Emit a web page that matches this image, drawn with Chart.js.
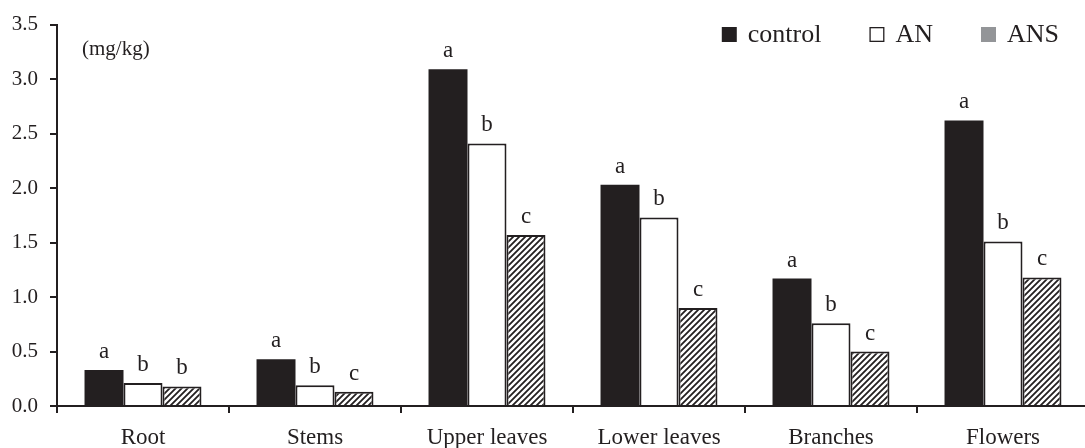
<!DOCTYPE html>
<html>
<head>
<meta charset="utf-8">
<script src="https://cdn.jsdelivr.net/npm/chart.js@4.4.1/dist/chart.umd.min.js"></script>
<style>
  html, body { margin: 0; padding: 0; background: #fff; overflow: hidden; width: 1085px; height: 448px; }
  #wrap { position: absolute; left: 0; top: 0; width: 1100px; height: 448px; }
</style>
</head>
<body>
<div id="wrap"><canvas id="c" width="1100" height="448"></canvas></div>
<script>
// Plant organs and concentrations (mg/kg) per treatment
const categories = ['Root', 'Stems', 'Upper leaves', 'Lower leaves', 'Branches', 'Flowers'];
const controlValues = [0.33, 0.43, 3.09, 2.03, 1.17, 2.62];
const anValues      = [0.21, 0.19, 2.41, 1.73, 0.76, 1.51];
const ansValues     = [0.18, 0.13, 1.57, 0.90, 0.50, 1.18];

// Significance letters above each bar
const controlLetters = ['a', 'a', 'a', 'a', 'a', 'a'];
const anLetters      = ['b', 'b', 'b', 'b', 'b', 'b'];
const ansLetters     = ['b', 'c', 'c', 'c', 'c', 'c'];

const seriesNames = ['control', 'AN', 'ANS'];
const unitLabel = '(mg/kg)';
const yMin = 0, yMax = 3.5, yStep = 0.5;

const INK = '#231f20';
const SERIF = '"Liberation Serif", "Times New Roman", serif';

// Diagonal hatching for the ANS bars
function makeHatch() {
  const s = 6;
  const p = document.createElement('canvas');
  p.width = s; p.height = s;
  const g = p.getContext('2d');
  g.fillStyle = '#fff';
  g.fillRect(0, 0, s, s);
  g.strokeStyle = INK;
  g.lineWidth = 1.8;
  g.beginPath();
  g.moveTo(-1, s + 1); g.lineTo(s + 1, -1);
  g.moveTo(-1, 1); g.lineTo(1, -1);
  g.moveTo(s - 1, s + 1); g.lineTo(s + 1, s - 1);
  g.stroke();
  return document.getElementById('c').getContext('2d').createPattern(p, 'repeat');
}
const hatch = makeHatch();

// Letters drawn above every bar, positioned from the bar elements
const letterPlugin = {
  id: 'letters',
  afterDatasetsDraw(chart) {
    const ctx = chart.ctx;
    ctx.save();
    ctx.font = '23px ' + SERIF;
    ctx.fillStyle = INK;
    ctx.textAlign = 'center';
    ctx.textBaseline = 'alphabetic';
    chart.data.datasets.forEach((ds, i) => {
      chart.getDatasetMeta(i).data.forEach((bar, j) => {
        ctx.fillText(ds.letters[j], bar.x, bar.y - 12);
      });
    });
    ctx.restore();
  }
};

// Unit caption and the legend row at the top right
const annotPlugin = {
  id: 'annot',
  afterDraw(chart) {
    const ctx = chart.ctx;
    const area = chart.chartArea;
    ctx.save();
    ctx.fillStyle = INK;
    ctx.font = '21px ' + SERIF;
    ctx.textAlign = 'left';
    ctx.textBaseline = 'alphabetic';
    ctx.fillText(unitLabel, area.left + 25, 55);

    ctx.font = '26px ' + SERIF;
    const box = 15, gapText = 11, gapItem = 48, baseline = 42;
    const swatches = [
      { fill: INK, stroke: null },
      { fill: '#fff', stroke: INK },
      { fill: '#939598', stroke: null }
    ];
    let x = area.right - 30;
    for (let i = seriesNames.length - 1; i >= 0; i--) {
      const w = ctx.measureText(seriesNames[i]).width;
      const tx = x - w;
      const bx = tx - gapText - box;
      ctx.fillStyle = INK;
      ctx.fillText(seriesNames[i], tx, baseline);
      const sw = swatches[i];
      ctx.fillStyle = sw.fill;
      ctx.fillRect(bx, baseline - box, box, box);
      if (sw.stroke) {
        ctx.strokeStyle = sw.stroke;
        ctx.lineWidth = 1.3;
        ctx.strokeRect(bx + 0.65, baseline - box + 0.65, box - 1.3, box - 1.3);
      }
      x = bx - gapItem;
    }
    ctx.restore();
  }
};

new Chart(document.getElementById('c'), {
  type: 'bar',
  data: {
    labels: categories,
    datasets: [
      { label: seriesNames[0], data: controlValues, letters: controlLetters,
        backgroundColor: INK, borderColor: INK, borderWidth: 0 },
      { label: seriesNames[1], data: anValues, letters: anLetters,
        backgroundColor: '#ffffff', borderColor: INK, borderWidth: 2 },
      { label: seriesNames[2], data: ansValues, letters: ansLetters,
        backgroundColor: hatch, borderColor: INK, borderWidth: 2 }
    ]
  },
  options: {
    responsive: false,
    animation: false,
    layout: { padding: { top: 24, right: 11, left: 0, bottom: 0 } },
    datasets: { bar: { barPercentage: 1.0, categoryPercentage: 0.68 } },
    plugins: {
      legend: { display: false },
      tooltip: { enabled: false }
    },
    scales: {
      x: {
        type: 'category',
        offset: true,
        grid: { display: true, drawOnChartArea: false, drawTicks: true, tickLength: 7,
                color: INK, lineWidth: 2, offset: true },
        border: { display: true, color: INK, width: 2 },
        ticks: { color: INK, font: { family: SERIF, size: 23 }, padding: 11, maxRotation: 0, autoSkip: false },
        afterFit(scale) { scale.height = 42; }
      },
      y: {
        min: yMin,
        max: yMax,
        grid: { display: true, drawOnChartArea: false, drawTicks: true, tickLength: 7,
                color: INK, lineWidth: 2 },
        border: { display: true, color: INK, width: 2 },
        ticks: { stepSize: yStep, color: INK, font: { family: SERIF, size: 21 }, padding: 12,
                 callback: v => Number(v).toFixed(1) },
        afterFit(scale) { scale.width = 57; }
      }
    }
  },
  plugins: [letterPlugin, annotPlugin]
});
</script>
</body>
</html>
